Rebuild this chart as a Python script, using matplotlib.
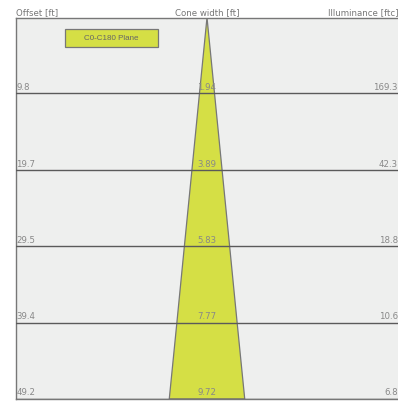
import matplotlib
matplotlib.use("Agg")
import matplotlib.pyplot as plt
from matplotlib.patches import Polygon, Rectangle

offsets = [9.8, 19.7, 29.5, 39.4, 49.2]
offset_labels = ["9.8", "19.7", "29.5", "39.4", "49.2"]
cone_widths = [1.94, 3.89, 5.83, 7.77, 9.72]
width_labels = ["1.94", "3.89", "5.83", "7.77", "9.72"]
illuminance = ["169.3", "42.3", "18.8", "10.6", "6.8"]
legend_label = "C0-C180 Plane"

W, H = 398, 404
fig = plt.figure(figsize=(W / 100, H / 100), dpi=100)
L, R, T, B = 16, 398, 17.5, 399
ax = fig.add_axes([L / W, 1 - B / H, (R - L) / W, (B - T) / H])
ymax = offsets[-1]
half = ymax / 2
ax.set_xlim(-half, half)
ax.set_ylim(ymax, 0)
ax.set_facecolor("#eeefee")
for s in ["left", "top", "bottom"]:
    ax.spines[s].set_color("#777777")
    ax.spines[s].set_linewidth(1.0)
ax.spines["right"].set_visible(False)
ax.set_xticks([])
ax.set_yticks([])

# cone
pts = [(0, 0)] + [(w / 2, o) for w, o in zip(cone_widths, offsets)]
pts += [(-w / 2, o) for w, o in zip(cone_widths[::-1], offsets[::-1])]
ax.add_patch(Polygon(pts, closed=True, facecolor="#d5df45", edgecolor="#777777", lw=0.9, zorder=2))

for o in offsets:
    ax.axhline(o, color="#5a5a5a", lw=1.0, zorder=3)

fs = 6.2
tc = "#888888"
fam = "DejaVu Sans"
for o, ol, wl, il in zip(offsets, offset_labels, width_labels, illuminance):
    ax.text(-half + 0.05, o - 0.2, ol, ha="left", va="bottom", fontsize=fs, color=tc, family=fam, zorder=4)
    ax.text(0, o - 0.2, wl, ha="center", va="bottom", fontsize=fs, color=tc, family=fam, zorder=4)
    ax.text(half, o - 0.2, il, ha="right", va="bottom", fontsize=fs, color=tc, family=fam, zorder=4)

# headers
fig.text(L / W, 1 - 12.5 / H, "Offset [ft]", ha="left", va="center", fontsize=fs, color="#777777", family=fam)
fig.text(207 / W, 1 - 12.5 / H, "Cone width [ft]", ha="center", va="center", fontsize=fs, color="#777777", family=fam)
fig.text(398 / W, 1 - 12.5 / H, "Illuminance [ftc]", ha="right", va="center", fontsize=fs, color="#777777", family=fam)

# legend box
lx0, lx1, ly0, ly1 = 65, 158, 29, 47
fig.patches.append(Rectangle((lx0 / W, 1 - ly1 / H), (lx1 - lx0) / W, (ly1 - ly0) / H,
                             transform=fig.transFigure, facecolor="#d5df45", edgecolor="#777777", lw=0.9, zorder=5))
fig.text((lx0 + lx1) / 2 / W, 1 - (ly0 + ly1) / 2 / H, legend_label, ha="center", va="center",
         fontsize=5.8, color="#666666", family="Liberation Sans", zorder=6)

fig.savefig("out.png", dpi=100)
